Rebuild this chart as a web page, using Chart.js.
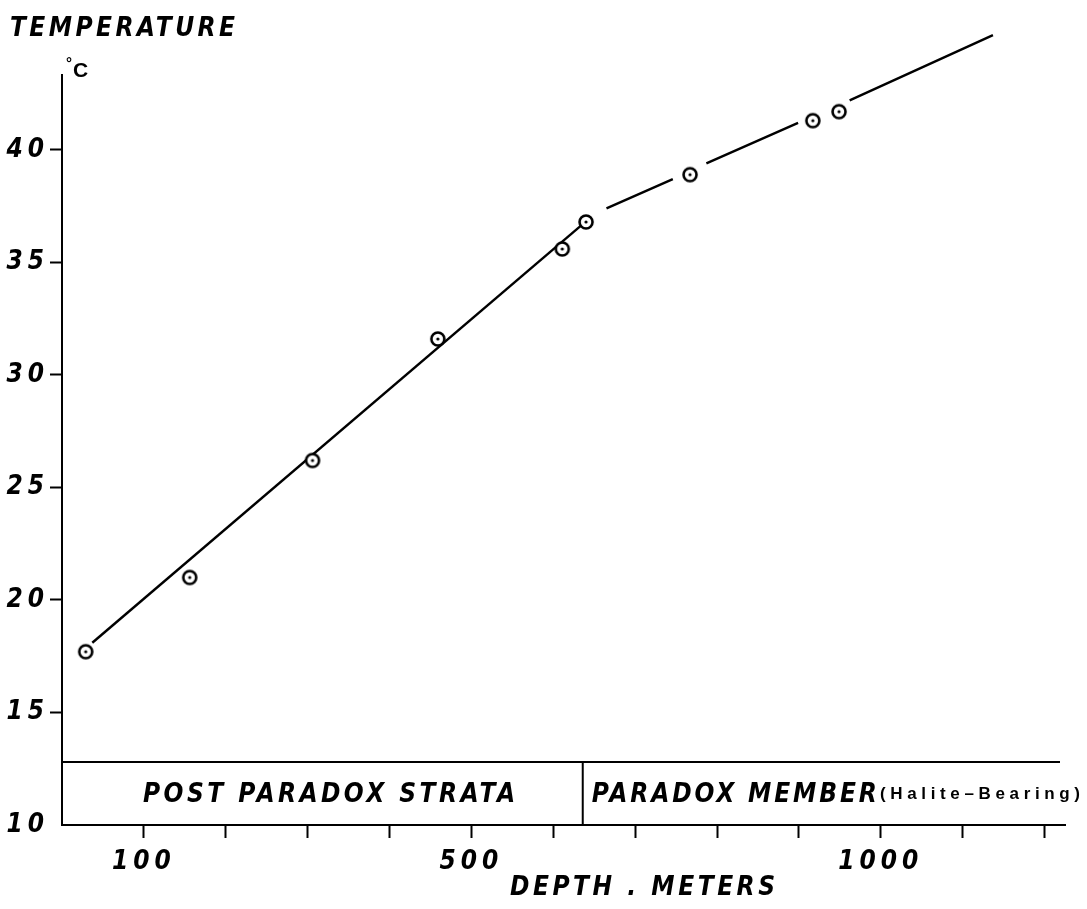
<!DOCTYPE html>
<html>
<head>
<meta charset="utf-8">
<script src="https://cdn.jsdelivr.net/npm/chart.js@4.4.1/dist/chart.umd.min.js"></script>
<style>
  html, body { margin: 0; padding: 0; background: #fff; }
  #wrap { width: 1087px; height: 909px; }
</style>
</head>
<body>
<div id="wrap"><canvas id="tempChart"></canvas></div>
<script>
// ---------- DATA ----------
const depths = [29, 156, 306, 459, 611, 640, 767, 917, 949];
const temps  = [17.7, 21.0, 26.2, 31.6, 35.6, 36.8, 38.9, 41.3, 41.7];

// fitted line through the post paradox strata
const lowerLineDepth = [37, 636];
const lowerLineTemp  = [18.1, 36.7];

// fitted line through the paradox member (broken around the points)
const upperLineDepth = [665, 746, null, 787, 899, null, 962, 1137];
const upperLineTemp  = [37.4, 38.7, null, 39.4, 41.2, null, 42.2, 45.1];

const xTickValues  = [100, 200, 300, 400, 500, 600, 700, 800, 900, 1000, 1100, 1200];
const xLabelValues = [100, 500, 1000];
const yTickValues  = [10, 15, 20, 25, 30, 35, 40];
const boundaryDepth = 636;   // post paradox / paradox member contact

const xMin = 0, xMax = 1225, yMin = 10, yMax = 43.33;

// ---------- HELPERS ----------
const toPoints = (xs, ys) => xs.map((x, i) => ({ x: x, y: ys[i] }));

// circle with a dot, like the drafted symbol
const mark = document.createElement("canvas");
mark.width = 20; mark.height = 20;
(function(){
  const m = mark.getContext("2d");
  m.beginPath(); m.arc(10, 10, 6.5, 0, Math.PI * 2);
  m.fillStyle = "#fff"; m.fill();
  m.lineWidth = 2.6; m.strokeStyle = "#000"; m.stroke();
  m.beginPath(); m.arc(10, 10, 1.6, 0, Math.PI * 2);
  m.fillStyle = "#000"; m.fill();
})();

const LETTER = "'DejaVu Sans Condensed', 'DejaVu Sans', sans-serif";
const PLAIN  = "'Liberation Sans', Arial, sans-serif";

// draw text spread out to a given width (hand lettering look)
function spacedText(ctx, text, x, y, width, font){
  ctx.save();
  ctx.font = font;
  ctx.letterSpacing = "0px";
  const n = [...text].length;
  const w = ctx.measureText(text).width;
  const sp = n > 1 ? (width - w) / (n - 1) : 0;
  ctx.letterSpacing = sp + "px";
  ctx.fillStyle = "#000";
  ctx.textAlign = "left";
  ctx.textBaseline = "alphabetic";
  ctx.fillText(text, x, y);
  ctx.restore();
}

// ---------- ANNOTATIONS ----------
const annotations = {
  id: "annotations",
  beforeDraw(chart){
    chart.ctx.letterSpacing = "5px";   // spaced tick numbers
  },
  afterDraw(chart){
    const ctx = chart.ctx;
    const a = chart.chartArea;
    const xs = chart.scales.x;
    const bandTop = a.bottom - 63;
    const divX = xs.getPixelForValue(boundaryDepth);

    ctx.save();
    ctx.strokeStyle = "#000";
    ctx.lineWidth = 2;
    ctx.beginPath();
    ctx.moveTo(a.left, bandTop); ctx.lineTo(a.right - 5, bandTop);
    ctx.moveTo(divX, bandTop); ctx.lineTo(divX, a.bottom);
    ctx.stroke();
    ctx.restore();

    const big = "italic bold 26px " + LETTER;
    spacedText(ctx, "TEMPERATURE", 10, 36, 225, big);
    spacedText(ctx, "POST PARADOX STRATA", 143, 802, 372, big);
    spacedText(ctx, "PARADOX MEMBER", divX + 9, 802, 285, big);
    spacedText(ctx, "(Halite\u2013Bearing)", 880, 799, 200, "bold 17px " + PLAIN);
    spacedText(ctx, "DEPTH . METERS", 510, 895, 265, big);

    ctx.save();
    ctx.fillStyle = "#000";
    ctx.letterSpacing = "0px";
    ctx.font = "bold 15px " + PLAIN;
    ctx.fillText("\u00b0", 66, 68);
    ctx.font = "bold 21px " + PLAIN;
    ctx.fillText("C", 73, 77);
    ctx.restore();
  }
};

// ---------- CHART ----------
const tickFont = { family: LETTER, size: 26, weight: "bold", style: "italic" };

new Chart(document.getElementById("tempChart"), {
  type: "line",
  data: {
    datasets: [
      {
        data: toPoints(depths, temps),
        showLine: false,
        pointStyle: mark,
        pointRadius: 8
      },
      {
        data: toPoints(lowerLineDepth, lowerLineTemp),
        borderColor: "#000",
        borderWidth: 2.4,
        pointRadius: 0
      },
      {
        data: toPoints(upperLineDepth, upperLineTemp),
        borderColor: "#000",
        borderWidth: 2.4,
        pointRadius: 0,
        spanGaps: false,
        clip: false
      }
    ]
  },
  options: {
    responsive: true,
    maintainAspectRatio: false,
    animation: false,
    layout: { padding: { top: 75, right: 22, left: 0, bottom: 0 } },
    plugins: { legend: { display: false }, tooltip: { enabled: false } },
    scales: {
      x: {
        type: "linear",
        min: xMin, max: xMax,
        afterBuildTicks: s => { s.ticks = xTickValues.map(v => ({ value: v })); },
        afterFit: s => { s.height = 84; },
        border: { color: "#000", width: 2 },
        grid: { drawOnChartArea: false, tickLength: 13, tickWidth: 2, tickColor: "#000" },
        ticks: {
          color: "#000",
          font: tickFont,
          padding: 9,
          maxRotation: 0,
          autoSkip: false,
          callback: v => xLabelValues.includes(v) ? String(v) : ""
        }
      },
      y: {
        type: "linear",
        min: yMin, max: yMax,
        afterBuildTicks: s => { s.ticks = yTickValues.map(v => ({ value: v })); },
        afterFit: s => { s.width = 62; },
        border: { color: "#000", width: 2 },
        grid: {
          drawOnChartArea: false,
          tickLength: 12,
          tickWidth: 2,
          tickColor: c => (c.tick && c.tick.value === yMin) ? "rgba(0,0,0,0)" : "#000"
        },
        ticks: {
          color: "#000",
          font: tickFont,
          padding: 1,
          autoSkip: false,
          callback: v => String(v)
        }
      }
    }
  },
  plugins: [annotations]
});
</script>
</body>
</html>
